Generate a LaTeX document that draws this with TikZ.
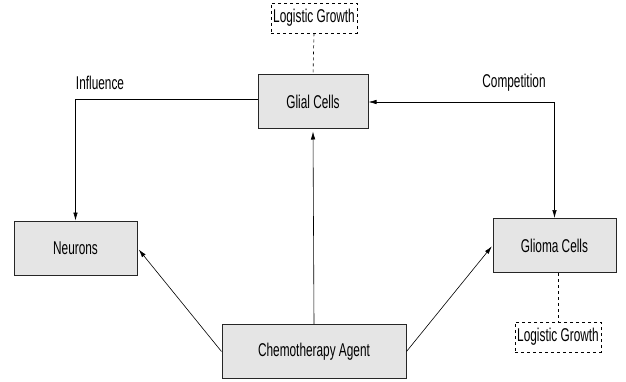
\documentclass[tikz,border=0pt]{standalone}
\usepackage{fontspec}
\setmainfont[FakeStretch=0.64]{Liberation Sans}
\usepackage{tikz}
\usetikzlibrary{arrows.meta}

\begin{document}
\begin{tikzpicture}[x=1pt,y=-1pt,
    >={Latex[length=8pt,width=4.5pt]},
    cell/.style={draw=black!85, line width=1pt, fill=black!10,
                 minimum width=#1, minimum height=54pt, inner sep=0pt},
    growth/.style={draw, dashed, line width=0.7pt, minimum width=86pt,
                   minimum height=30pt, inner sep=0pt},
    link/.style={line width=0.6pt},
    every node/.style={font=\fontsize{18.5}{21}\selectfont},
    ]
\useasboundingbox (0,0) rectangle (626,382);

\node[cell=110pt]  (glial)   at (313,102)   {Glial Cells};
\node[cell=123pt]  (neurons) at (75.5,248)  {Neurons};
\node[cell=123pt]  (glioma)  at (554.5,245.5) {Glioma Cells};
\node[cell=184pt]  (chemo)   at (314,351.5) {Chemotherapy Agent};
\node[growth]      (lgtop)   at (314,18)    {Logistic Growth};
\node[growth]      (lgbot)   at (558,337)   {Logistic Growth};

\node (infl) at (100,83)  {Influence};
\node (comp) at (514,83)  {Competition};

\draw[link, ->]  ([yshift=3pt]glial.west) -| (neurons.north);
\draw[link, <->] (glioma.north) |- (glial.east);
\draw[link, ->, shorten >=2pt] (chemo.north) -- (glial.south);
\draw[link, ->, shorten >=2pt] (chemo.west) -- (neurons.east);
\draw[link, ->, shorten >=1pt] (chemo.east) -- (glioma.west);

\draw[dashed, line width=0.6pt] (lgtop.south) -- (glial.north);
\draw[dashed, line width=0.6pt] (glioma.south -| lgbot.north) -- (lgbot.north);
\end{tikzpicture}
\end{document}
